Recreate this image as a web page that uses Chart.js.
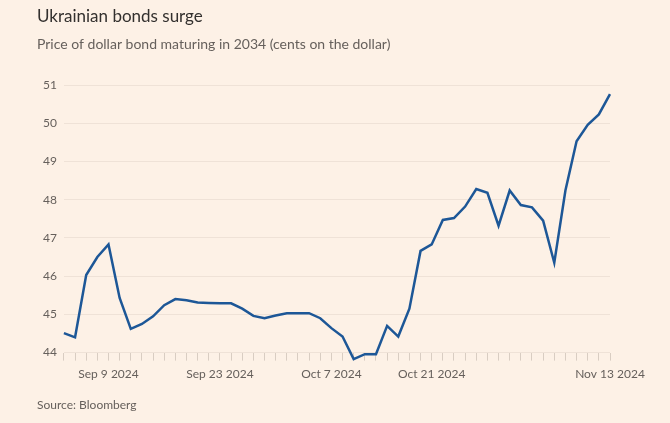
<!DOCTYPE html>
<html>
<head>
    <title>Ukrainian bonds surge</title>
    <script src="https://cdn.jsdelivr.net/npm/chart.js"></script>
    <style>
        body { margin: 0; background: #fdf1e6; }
        #wrap { width: 670px; height: 423px; }
    </style>
</head>
<body>
<div id="wrap"><canvas id="bondChart" width="670" height="423"></canvas></div>
<script>
    // trading days (US bond market), Sep 3 - Nov 13 2024
    const dates = [
        'Sep 3 2024', 'Sep 4 2024', 'Sep 5 2024', 'Sep 6 2024', 'Sep 9 2024',
        'Sep 10 2024', 'Sep 11 2024', 'Sep 12 2024', 'Sep 13 2024', 'Sep 16 2024',
        'Sep 17 2024', 'Sep 18 2024', 'Sep 19 2024', 'Sep 20 2024', 'Sep 23 2024',
        'Sep 24 2024', 'Sep 25 2024', 'Sep 26 2024', 'Sep 27 2024', 'Sep 30 2024',
        'Oct 1 2024', 'Oct 2 2024', 'Oct 3 2024', 'Oct 4 2024', 'Oct 7 2024',
        'Oct 8 2024', 'Oct 9 2024', 'Oct 10 2024', 'Oct 11 2024', 'Oct 15 2024',
        'Oct 16 2024', 'Oct 17 2024', 'Oct 18 2024', 'Oct 21 2024', 'Oct 22 2024',
        'Oct 23 2024', 'Oct 24 2024', 'Oct 25 2024', 'Oct 28 2024', 'Oct 29 2024',
        'Oct 30 2024', 'Oct 31 2024', 'Nov 1 2024', 'Nov 4 2024', 'Nov 5 2024',
        'Nov 6 2024', 'Nov 7 2024', 'Nov 8 2024', 'Nov 12 2024', 'Nov 13 2024'
    ];

    // cents on the dollar
    const price = [
        44.51, 44.40, 46.03, 46.50, 46.83, 45.43, 44.62, 44.75, 44.95, 45.24,
        45.40, 45.37, 45.31, 45.30, 45.29, 45.29, 45.15, 44.96, 44.90, 44.97,
        45.03, 45.03, 45.03, 44.90, 44.64, 44.42, 43.83, 43.96, 43.96, 44.70,
        44.42, 45.15, 46.66, 46.83, 47.47, 47.52, 47.82, 48.28, 48.18, 47.32,
        48.24, 47.86, 47.80, 47.45, 46.35, 48.24, 49.53, 49.96, 50.23, 50.76
    ];

    const xTickLabels = ['Sep 9 2024', 'Sep 23 2024', 'Oct 7 2024', 'Oct 21 2024', 'Nov 13 2024'];
    const yTicks = [44, 45, 46, 47, 48, 49, 50, 51];

    const titleText = 'Ukrainian bonds surge';
    const subtitleText = 'Price of dollar bond maturing in 2034 (cents on the dollar)';
    const sourceText = 'Source: Bloomberg';

    const grey = '#66605c';
    const fontFamily = 'Lato, "Noto Sans", sans-serif';

    // title, subtitle and source drawn straight onto the canvas
    const textPlugin = {
        id: 'ftText',
        beforeDraw(chart) {
            const c = chart.ctx;
            c.save();
            c.fillStyle = '#fdf1e6';
            c.fillRect(0, 0, chart.width, chart.height);
            c.textBaseline = 'middle';
            c.textAlign = 'left';
            c.fillStyle = '#33302e';
            c.font = '17px ' + fontFamily;
            c.fillText(titleText, 37, 17);
            c.fillStyle = grey;
            c.font = '14px ' + fontFamily;
            c.fillText(subtitleText, 37, 44);
            c.font = '12px ' + fontFamily;
            c.fillText(sourceText, 37, 405);
            c.restore();
        }
    };

    const ctx = document.getElementById('bondChart').getContext('2d');
    const chart = new Chart(ctx, {
        type: 'line',
        data: {
            labels: dates,
            datasets: [{
                label: 'Price',
                data: price,
                borderColor: '#1d5797',
                borderWidth: 2.5,
                pointRadius: 0,
                tension: 0,
                fill: false,
                clip: false
            }]
        },
        options: {
            responsive: false,
            animation: false,
            layout: { padding: { top: 85, left: 36, right: 60, bottom: 36 } },
            plugins: {
                legend: { display: false },
                tooltip: { enabled: false }
            },
            scales: {
                x: {
                    offset: false,
                    border: { display: false },
                    grid: {
                        drawOnChartArea: false,
                        tickLength: 8,
                        color: '#d9cdc2'
                    },
                    ticks: {
                        autoSkip: false,
                        maxRotation: 0,
                        padding: 6,
                        color: grey,
                        font: { family: fontFamily, size: 12 },
                        callback: function (value, index) {
                            const d = dates[index];
                            return xTickLabels.includes(d) ? d : '';
                        }
                    }
                },
                y: {
                    min: 44,
                    max: 51,
                    border: { display: false },
                    afterBuildTicks: axis => {
                        axis.ticks = yTicks.map(v => ({ value: v }));
                    },
                    grid: {
                        drawTicks: false,
                        color: '#efe2d7'
                    },
                    ticks: {
                        padding: 7,
                        color: grey,
                        font: { family: fontFamily, size: 12 }
                    }
                }
            }
        },
        plugins: [textPlugin]
    });
</script>
</body>
</html>
